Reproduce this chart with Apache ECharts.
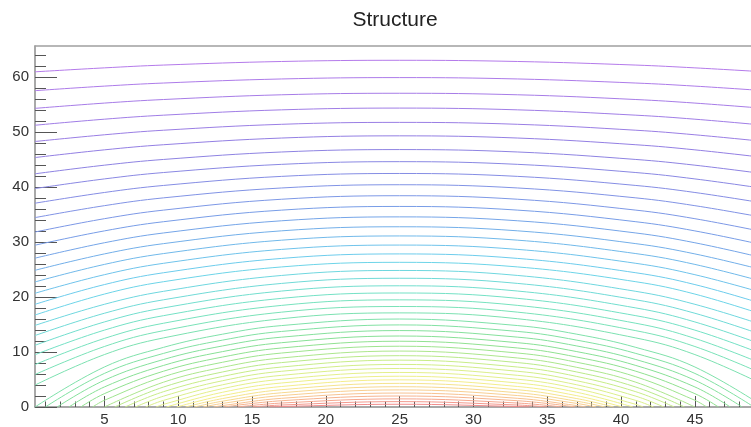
<!DOCTYPE html>
<html>
<head>
<meta charset="utf-8">
<script src="https://cdn.jsdelivr.net/npm/echarts@6/dist/echarts.min.js"></script>
<style>
html,body{margin:0;padding:0;background:#fff;}
#chart{width:751px;height:427px;}
</style>
</head>
<body>
<div id="chart"></div>
<script>
// ---- data ----
const titleText = 'Structure';
const xMajorTicks = [5, 10, 15, 20, 25, 30, 35, 40, 45];
const xMinorTicks = [1,2,3,4,6,7,8,9,11,12,13,14,16,17,18,19,21,22,23,24,26,27,28,29,31,32,33,34,36,37,38,39,41,42,43,44,46,47,48];
const yMajorTicks = [0, 10, 20, 30, 40, 50, 60];
const yMinorTicks = [2,4,6,8,12,14,16,18,22,24,26,28,32,34,36,38,42,44,46,48,52,54,56,58,62,64];

// contour lines are symmetric about x = 25
const centerX = 25;
// y of each contour at x = 25 (top line first)
const yAtCenter = [63.10, 59.95, 57.10, 54.40, 51.80, 49.35, 46.85, 44.65, 42.50, 40.45, 38.45, 36.50, 34.60, 32.80, 31.13, 29.47, 27.86, 26.33, 24.85, 23.43, 22.06, 20.75, 19.50, 18.29, 17.13, 16.01, 14.94, 13.91, 12.92, 11.97, 11.06, 10.18, 9.34, 8.53, 7.75, 7.01, 6.29, 5.60, 4.94, 4.30, 3.69, 3.11, 2.54, 2.00, 1.48, 0.98, 0.50];
// y at 8 units from the centre (x = 17 and x = 33)
const yAtDx8 = [62.88, 59.70, 56.82, 54.08, 51.45, 48.95, 46.41, 44.16, 41.97, 39.86, 37.81, 35.83, 33.89, 32.06, 30.36, 28.68, 27.04, 25.49, 23.94, 22.49, 21.10, 19.77, 18.49, 17.26, 16.06, 14.82, 13.75, 12.71, 11.70, 10.74, 9.82, 8.92, 8.08, 7.27, 6.50, 5.76, 5.05, 4.37, 3.73, 3.14, 2.59, 2.08, 1.58, 1.14, 0.72, 0.36, 0.09];
// y at 12 units from the centre (x = 13 and x = 37), lower contours
const yAtDx12 = [null, null, null, null, null, null, null, null, null, null, null, null, null, null, null, null, null, null, null, null, null, null, null, null, null, 13.25, 12.17, 11.11, 10.08, 9.09, 8.14, 7.22, 6.37, 5.56, 4.78, 4.04, 3.34, 2.68, 2.06, 1.53, 1.06, 0.65, 0.26, null, null, null, null];
// y at 16 units from the centre (x = 9 and x = 41)
const yAtDx16 = [62.23, 58.96, 55.96, 53.11, 50.37, 47.73, 45.05, 42.67, 40.32, 38.06, 35.83, 33.72, 31.67, 29.73, 27.92, 26.15, 24.43, 22.80, 21.05, 19.51, 18.03, 16.62, 15.24, 13.89, 12.57, 10.85, 9.75, 8.64, 7.56, 6.51, 5.50, 4.51, 3.63, 2.78, 1.97, 1.20, 0.48, null, null, null, null, null, null, null, null, null, null];
// y at 20 units from the centre (x = 5 and x = 45)
const yAtDx20 = [61.72, 58.40, 55.31, 52.38, 49.54, 46.80, 44.01, 41.51, 39.04, 36.64, 34.27, 32.05, 29.89, 27.86, 25.95, 24.08, 22.28, 20.55, 18.69, 17.06, 15.48, 13.99, 12.48, 11.01, 9.54, 7.28, 6.11, 4.87, 3.65, 2.43, 1.22, null, null, null, null, null, null, null, null, null, null, null, null, null, null, null, null];
// y at the frame edge, 24.7 units from the centre (x = 0.3 and x = 49.7)
const yAtEdge = [61.00, 57.57, 54.35, 51.28, 48.32, 45.40, 42.44, 39.76, 37.09, 34.47, 31.85, 29.45, 27.09, 24.88, 22.76, 20.70, 18.69, 16.74, 14.85, 13.01, 11.23, 9.52, 7.72, 5.91, 3.99, null, null, null, null, null, null, null, null, null, null, null, null, null, null, null, null, null, null, null, null, null, null];
// half-width where a contour meets y = 0 (null if it reaches the frame edge first)
const zeroCrossDx = [null, null, null, null, null, null, null, null, null, null, null, null, null, null, null, null, null, null, null, null, null, null, null, null, null, 24.7, 24.0, 23.2, 22.4, 21.6, 20.8, 20.0, 19.3, 18.6, 17.9, 17.2, 16.5, 15.8, 15.1, 14.5, 13.9, 13.3, 12.6, 11.9, 11.0, 10.0, 8.8];
const sampleDx = [24.7, 20, 16, 12, 8];
const sampleCols = [yAtEdge, yAtDx20, yAtDx16, yAtDx12, yAtDx8];

// ---- style ----
const colorStops = [
  [0.00, [180, 122, 234]],
  [0.12, [144, 128, 226]],
  [0.25, [118, 160, 232]],
  [0.36, [108, 210, 236]],
  [0.46, [116, 226, 196]],
  [0.62, [138, 224, 146]],
  [0.72, [202, 236, 136]],
  [0.82, [244, 240, 140]],
  [0.90, [248, 202, 146]],
  [1.00, [242, 140, 140]]
];
function paletteColor(t) {
  for (let i = 1; i < colorStops.length; i++) {
    if (t <= colorStops[i][0]) {
      const a = colorStops[i - 1], b = colorStops[i];
      const f = (t - a[0]) / (b[0] - a[0]);
      const c = a[1].map((v, k) => Math.round(v + (b[1][k] - v) * f));
      return 'rgb(' + c.join(',') + ')';
    }
  }
  return 'rgb(' + colorStops[colorStops.length - 1][1].join(',') + ')';
}

const series = [];
const nLines = yAtCenter.length;
for (let i = 0; i < nLines; i++) {
  const left = [];
  if (zeroCrossDx[i] !== null) left.push([centerX - zeroCrossDx[i], 0]);
  for (let c = 0; c < sampleDx.length; c++) {
    const v = sampleCols[c][i];
    if (v !== null) left.push([centerX - sampleDx[c], v]);
  }
  const right = left.slice().reverse().map(p => [2 * centerX - p[0], p[1]]);
  const pts = left.concat([[centerX, yAtCenter[i]]], right);
  series.push({
    type: 'line',
    data: pts,
    xAxisIndex: 0,
    yAxisIndex: 0,
    showSymbol: false,
    smooth: 0.4,
    silent: true,
    animation: false,
    lineStyle: { width: 1, color: paletteColor(i / (nLines - 1)) }
  });
}

const font = 'Liberation Sans, Arial, Helvetica, sans-serif';
const axisLineStyle = { color: '#8c8c8c', width: 1.5 };
const tickStyle = { color: '#555', width: 1 };
const xBase = { type: 'value', min: 0.3, max: 48.8, splitLine: { show: false } };
const yBase = { type: 'value', min: 0, max: 65.7, splitLine: { show: false } };

const option = {
  backgroundColor: '#ffffff',
  animation: false,
  title: {
    text: titleText,
    left: 390,
    top: 5,
    textAlign: 'center',
    textStyle: { fontFamily: font, fontSize: 21, fontWeight: 'normal', color: '#222' }
  },
  grid: { left: 35, top: 46, bottom: 19, right: 0, containLabel: false },
  xAxis: [
    Object.assign({}, xBase, {
      position: 'bottom',
      axisLine: { show: true, onZero: false, lineStyle: axisLineStyle },
      axisTick: { show: true, inside: true, length: 11, customValues: xMajorTicks, lineStyle: tickStyle },
      axisLabel: { show: true, customValues: xMajorTicks, fontFamily: font, fontSize: 15, color: '#333', margin: 5 }
    }),
    Object.assign({}, xBase, {
      position: 'bottom',
      axisLine: { show: false },
      axisTick: { show: true, inside: true, length: 5.5, customValues: xMinorTicks, lineStyle: tickStyle },
      axisLabel: { show: false }
    }),
    Object.assign({}, xBase, {
      position: 'top',
      axisLine: { show: true, onZero: false, lineStyle: { color: '#a0a0a0', width: 1.5 } },
      axisTick: { show: false },
      axisLabel: { show: false }
    })
  ],
  yAxis: [
    Object.assign({}, yBase, {
      position: 'left',
      axisLine: { show: true, onZero: false, lineStyle: axisLineStyle },
      axisTick: { show: true, inside: true, length: 22, customValues: yMajorTicks, lineStyle: tickStyle },
      axisLabel: { show: true, customValues: yMajorTicks, fontFamily: font, fontSize: 15, color: '#333', margin: 6 }
    }),
    Object.assign({}, yBase, {
      position: 'left',
      axisLine: { show: false },
      axisTick: { show: true, inside: true, length: 11, customValues: yMinorTicks, lineStyle: tickStyle },
      axisLabel: { show: false }
    })
  ],
  series: series
};

const chart = echarts.init(document.getElementById('chart'), null, { renderer: 'canvas' });
chart.setOption(option);
</script>
</body>
</html>
